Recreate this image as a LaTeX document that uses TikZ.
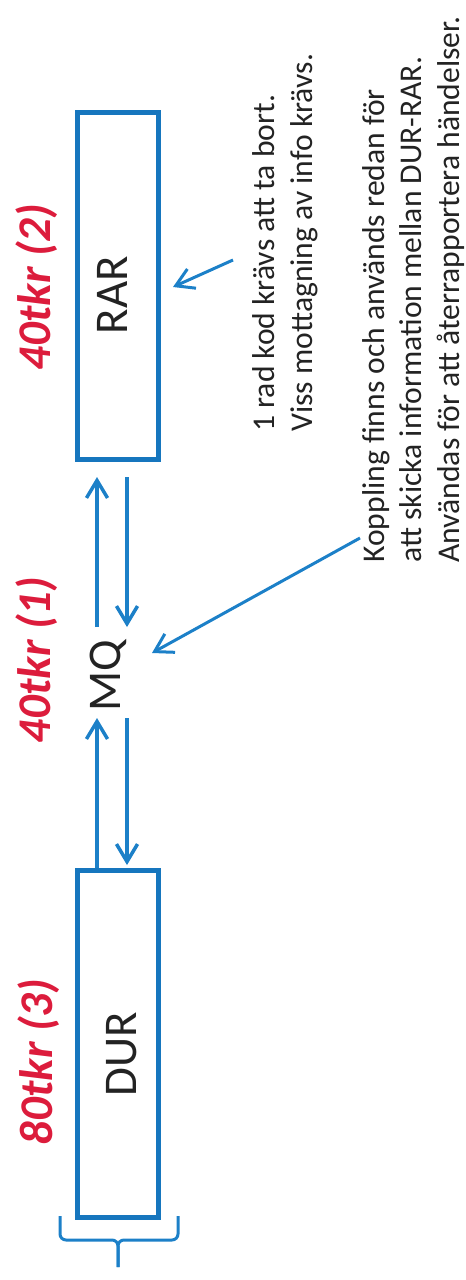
\documentclass[tikz,border=0pt]{standalone}
\usepackage{fontspec}
\setmainfont{Carlito}
\usetikzlibrary{arrows.meta,positioning}
\newlength\px
\setlength\px{0.02cm}
\definecolor{boxblue}{RGB}{22,118,190}
\definecolor{arrowblue}{RGB}{28,128,200}
\definecolor{costred}{RGB}{220,28,60}
\definecolor{notegray}{RGB}{35,35,35}

\begin{document}
\begin{tikzpicture}[x=\px,y=-\px,
  box/.style={draw=boxblue, line width=5\px, minimum width=81\px, minimum height=347\px, inner sep=0pt},
  sysname/.style={rotate=90, anchor=base, text=notegray, inner sep=0pt, font=\fontsize{26.7}{32}\selectfont},
  cost/.style={rotate=90, anchor=base, text=costred, inner sep=0pt, font=\fontsize{26.7}{32}\selectfont\bfseries\itshape},
  note/.style={rotate=90, anchor=base west, align=left, text=notegray, inner sep=0pt, font=\fontsize{18}{21.3}\selectfont},
  flow/.style={draw=arrowblue, line width=3.5\px, -{Straight Barb[length=10pt,width=12pt]}},
  pointer/.style={flow, line width=3\px},
  brace/.style={draw=arrowblue, line width=3\px, rounded corners=6\px}]
\useasboundingbox (0,0) rectangle (466,1280);

% systems
\node[box] (rar) at (118,286) {};
\node[box] (dur) at (118,1044) {};
\node[sysname] (rarname) at (127,295) {RAR};
\node[sysname] (durname) at (136,1054) {DUR};
\node[sysname] (mq) at (120,676) {MQ};

% costs
\node[cost] (rarcost) at (50,287) {40tkr (2)};
\node[cost] (mqcost) at (50,660) {40tkr (1)};
\node[cost] (durcost) at (52,1062) {80tkr (3)};

% notes (base = last line)
\node[note] (rarnote) at (312,432) {1 rad kod krävs att ta bort.\\Viss mottagning av info krävs.};
\node[note] (mqnote) at (459,563) {Koppling finns och används redan för\\att skicka information mellan DUR-RAR.\\Användas för att återrapportera händelser.};

% flows via MQ
\coordinate (mqupin) at (97,627);
\coordinate (mqdownout) at (127,627);
\coordinate (mqupout) at (97,718);
\coordinate (mqdownin) at (127,718);
\draw[flow, shorten >=15\px] (mqupin) -- (mqupin |- rar.south);
\draw[flow, shorten <=15\px] (mqdownout |- rar.south) -- (mqdownout);
\draw[flow] (mqupout |- dur.north) -- (mqupout);
\draw[flow, shorten >=3\px] (mqdownin) -- (mqdownin |- dur.north);

% pointers from notes
\coordinate (rarnotetail) at (233,260);
\coordinate (rarnotetip) at (173,287);
\coordinate (mqnotetail) at (360,538);
\coordinate (mqnotetip) at (152,653);
\draw[pointer] (rarnotetail) -- (rarnotetip);
\draw[pointer] (mqnotetail) -- (mqnotetip);

% brace under DUR
\draw[brace] (60,1216) -- (60,1240) -- (118,1240) -- (118,1267);
\draw[brace] (178,1216) -- (178,1240) -- (118,1240) -- (118,1267);
\end{tikzpicture}
\end{document}
